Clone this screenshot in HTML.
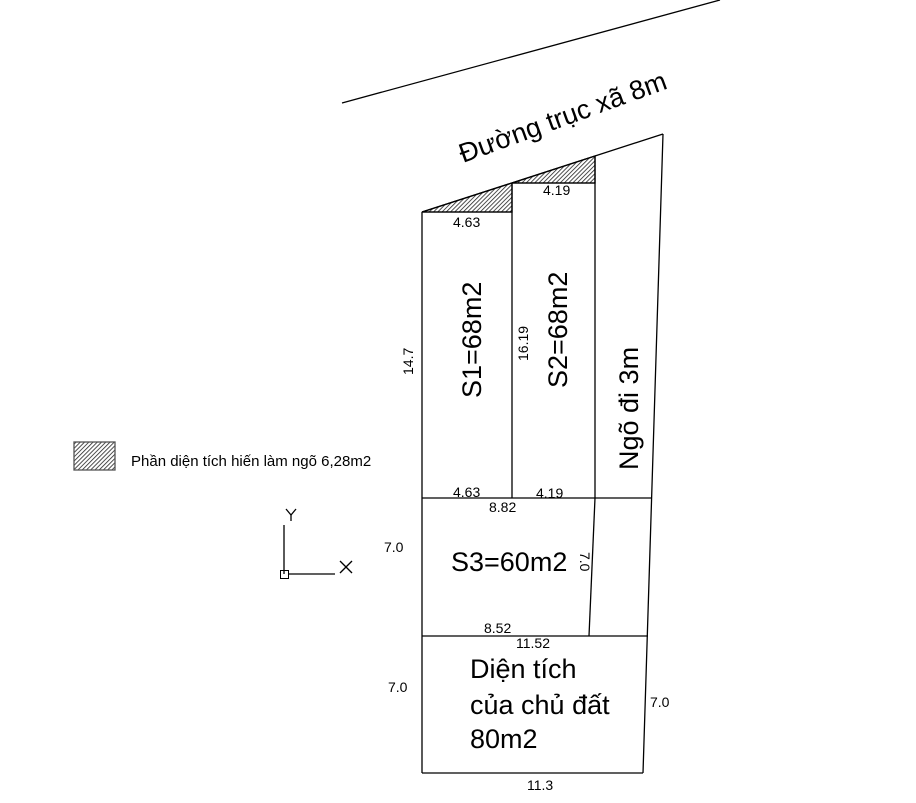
<!DOCTYPE html>
<html><head><meta charset="utf-8"><style>
html,body{margin:0;padding:0;background:#fff;}
svg{display:block;font-family:"Liberation Sans",sans-serif;}
</style></head><body>
<svg width="916" height="803" viewBox="0 0 916 803" xmlns="http://www.w3.org/2000/svg">
<defs>
<pattern id="h" patternUnits="userSpaceOnUse" width="3" height="3" patternTransform="rotate(45)">
<rect width="3" height="3" fill="#fff"/><line x1="0" y1="0" x2="0" y2="3" stroke="#222" stroke-width="1.6"/>
</pattern>
</defs>
<g stroke="#000" stroke-width="1.3" fill="none">
<line x1="342" y1="103" x2="720" y2="0"/>
<polygon points="422,212 512,183 512,212" fill="url(#h)"/>
<polygon points="512,183 595,156 595,183" fill="url(#h)"/>
<line x1="422" y1="212" x2="663" y2="134"/>
<line x1="663" y1="134" x2="643" y2="773"/>
<line x1="422" y1="212" x2="422" y2="773"/>
<line x1="422" y1="212" x2="512" y2="212"/>
<line x1="512" y1="183" x2="595" y2="183"/>
<line x1="512" y1="183" x2="512" y2="498"/>
<line x1="595" y1="156" x2="595" y2="498"/>
<line x1="595" y1="498" x2="589" y2="636"/>
<line x1="422" y1="498" x2="652" y2="498"/>
<line x1="422" y1="636" x2="648" y2="636"/>
<line x1="422" y1="773" x2="643" y2="773"/>
<rect x="74" y="442" width="41" height="28" fill="url(#h)" stroke="#555"/>
<line x1="284" y1="525" x2="284" y2="574"/>
<line x1="289" y1="574" x2="335" y2="574"/>
<rect x="280.5" y="570.5" width="8" height="8" stroke-width="1"/>
<line x1="286" y1="509" x2="291" y2="515"/><line x1="296" y1="509" x2="291" y2="515"/><line x1="291" y1="515" x2="291" y2="521"/>
<line x1="340" y1="561" x2="352" y2="573"/><line x1="352" y1="561" x2="340" y2="573"/>
</g>
<g fill="#000">
<text x="463" y="163" font-size="27" transform="rotate(-20 463 163)">Đường trục xã 8m</text>
<text x="453" y="227" font-size="14">4.63</text>
<text x="543" y="195" font-size="14">4.19</text>
<text x="453" y="497" font-size="14">4.63</text>
<text x="536" y="498" font-size="14">4.19</text>
<text x="489" y="512" font-size="14">8.82</text>
<text x="484" y="633" font-size="14">8.52</text>
<text x="516" y="648" font-size="14">11.52</text>
<text x="527" y="790" font-size="14">11.3</text>
<text x="384" y="552" font-size="14">7.0</text>
<text x="388" y="692" font-size="14">7.0</text>
<text x="650" y="707" font-size="14">7.0</text>
<text x="413" y="375" font-size="14" transform="rotate(-90 413 375)">14.7</text>
<text x="528" y="361" font-size="14" transform="rotate(-90 528 361)">16.19</text>
<text x="580" y="552" font-size="14" transform="rotate(90 580 552)">7.0</text>
<text x="481" y="398" font-size="27" transform="rotate(-90 481 398)">S1=68m2</text>
<text x="567" y="388" font-size="27" transform="rotate(-90 567 388)">S2=68m2</text>
<text x="638" y="470" font-size="27" transform="rotate(-90 638 470)">Ngõ đi 3m</text>
<text x="451" y="571" font-size="27">S3=60m2</text>
<text x="470" y="678" font-size="27">Diện tích</text>
<text x="470" y="714" font-size="27">của chủ đất</text>
<text x="470" y="748" font-size="27">80m2</text>
<text x="131" y="466" font-size="15">Phần diện tích hiến làm ngõ 6,28m2</text>
</g>
</svg>
</body></html>
